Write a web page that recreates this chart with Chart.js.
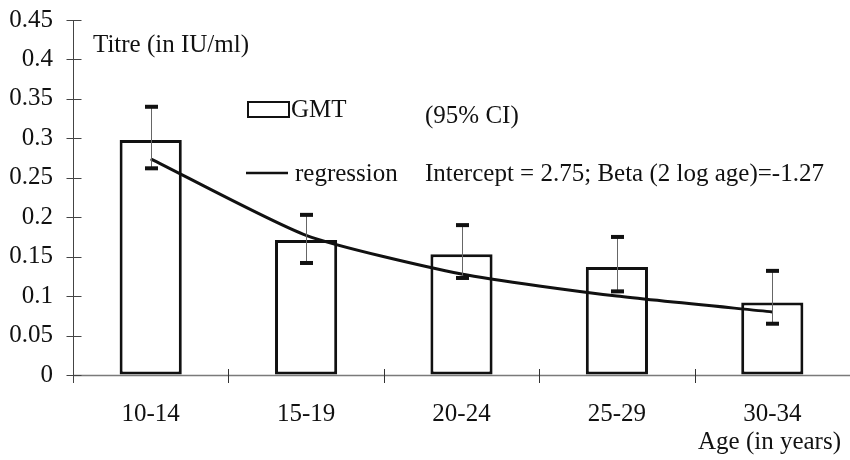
<!DOCTYPE html>
<html>
<head>
<meta charset="utf-8">
<title>GMT by age group</title>
<script src="https://cdn.jsdelivr.net/npm/chart.js@4.4.1/dist/chart.umd.min.js"></script>
<style>
  html, body { margin: 0; padding: 0; background: #fff; }
  #wrap { width: 850px; height: 460px; }
</style>
</head>
<body>
<div id="wrap"><canvas id="titreChart" width="850" height="460"></canvas></div>
<script>
// Geometric mean titres per age group, with 95% confidence limits
const ageGroups = ['10-14', '15-19', '20-24', '25-29', '30-34'];
const gmt = [0.298, 0.171, 0.153, 0.137, 0.092];
const ciLower = [0.262, 0.142, 0.123, 0.106, 0.065];
const ciUpper = [0.340, 0.203, 0.190, 0.175, 0.132];
const regression = [0.274, 0.177, 0.128, 0.100, 0.080];

const yMin = 0;
const yMax = 0.45;
const yStep = 0.05;

const serif = "'Liberation Serif', 'Times New Roman', serif";
const ink = '#111';

// Axes with crossing tick marks, error bars and the text block
const decorations = {
  id: 'decorations',
  beforeDatasetsDraw(chart) {
    const { ctx, chartArea, scales: { x, y } } = chart;
    ctx.save();
    // x axis line
    ctx.strokeStyle = '#7a7a7a';
    ctx.lineWidth = 1.5;
    ctx.beginPath();
    ctx.moveTo(chartArea.left, chartArea.bottom + 0.5);
    ctx.lineTo(chartArea.right, chartArea.bottom + 0.5);
    ctx.stroke();
    // category boundaries
    ctx.strokeStyle = '#333';
    ctx.lineWidth = 1;
    for (let i = 1; i < ageGroups.length; i++) {
      const bx = Math.round((x.getPixelForValue(i - 1) + x.getPixelForValue(i)) / 2) + 0.5;
      ctx.beginPath();
      ctx.moveTo(bx, chartArea.bottom - 6);
      ctx.lineTo(bx, chartArea.bottom + 8);
      ctx.stroke();
    }
    // y axis line and ticks
    const ax = chartArea.left + 0.5;
    ctx.strokeStyle = '#444';
    ctx.beginPath();
    ctx.moveTo(ax, chartArea.top);
    ctx.lineTo(ax, chartArea.bottom + 8);
    ctx.stroke();
    y.ticks.forEach((t) => {
      const py = Math.round(y.getPixelForValue(t.value)) + 0.5;
      ctx.beginPath();
      ctx.moveTo(ax - 7, py);
      ctx.lineTo(ax + 8, py);
      ctx.stroke();
    });
    ctx.restore();
  },
  afterDatasetsDraw(chart) {
    const { ctx, scales: { x, y } } = chart;
    ctx.save();
    // 95% CI whiskers
    ageGroups.forEach((g, i) => {
      const cx = Math.round(x.getPixelForValue(i)) + 0.5;
      const top = y.getPixelForValue(ciUpper[i]);
      const bot = y.getPixelForValue(ciLower[i]);
      ctx.strokeStyle = '#666';
      ctx.lineWidth = 1;
      ctx.beginPath();
      ctx.moveTo(cx, top);
      ctx.lineTo(cx, bot);
      ctx.stroke();
      ctx.fillStyle = ink;
      ctx.fillRect(cx - 6.5, top - 2, 13, 4);
      ctx.fillRect(cx - 6.5, bot - 2, 13, 4);
    });

    // legend and annotations
    ctx.fillStyle = ink;
    ctx.font = '25px ' + serif;
    ctx.textBaseline = 'alphabetic';
    ctx.textAlign = 'left';
    ctx.fillText('Titre (in IU/ml)', 93, 52);

    ctx.strokeStyle = ink;
    ctx.lineWidth = 2;
    ctx.strokeRect(248, 102, 41, 15);
    ctx.fillText('GMT', 291, 117);
    ctx.fillText('(95% CI)', 425, 123);

    ctx.lineWidth = 2.5;
    ctx.beginPath();
    ctx.moveTo(246, 173);
    ctx.lineTo(288, 173);
    ctx.stroke();
    ctx.fillText('regression', 295, 181);
    ctx.fillText('Intercept = 2.75; Beta (2 log age)=-1.27', 425, 181);

    ctx.textAlign = 'right';
    ctx.fillText('Age (in years)', 841, 449);
    ctx.restore();
  }
};

const chartCtx = document.getElementById('titreChart').getContext('2d');
new Chart(chartCtx, {
  data: {
    labels: ageGroups,
    datasets: [
      {
        type: 'line',
        label: 'regression',
        data: regression,
        borderColor: ink,
        borderWidth: 3,
        pointRadius: 0,
        tension: 0.2,
        fill: false,
        order: 0
      },
      {
        type: 'bar',
        label: 'GMT',
        data: gmt,
        backgroundColor: '#fff',
        borderColor: ink,
        borderWidth: 3,
        borderSkipped: false,
        barPercentage: 0.4,
        categoryPercentage: 1,
        order: 1
      }
    ]
  },
  options: {
    responsive: false,
    animation: false,
    layout: { padding: { top: 20, right: 0, bottom: 0, left: 0 } },
    plugins: {
      legend: { display: false },
      tooltip: { enabled: false }
    },
    scales: {
      x: {
        type: 'category',
        offset: true,
        grid: { display: false },
        border: { display: false },
        ticks: {
          color: ink,
          padding: 16,
          maxRotation: 0,
          font: { family: serif, size: 25 }
        },
        afterFit(scale) { scale.height = 85; }
      },
      y: {
        min: yMin,
        max: yMax,
        // invisible tick marks only provide the gap between labels and axis
        grid: { display: true, drawOnChartArea: false, color: 'transparent', tickLength: 20 },
        border: { display: false },
        ticks: {
          stepSize: yStep,
          color: ink,
          padding: 0,
          font: { family: serif, size: 25 },
          // 0.4 rather than 0.40
          callback: (value) => String(parseFloat(value.toFixed(2)))
        },
        afterFit(scale) { scale.width = 73; }
      }
    }
  },
  plugins: [decorations]
});
</script>
</body>
</html>
